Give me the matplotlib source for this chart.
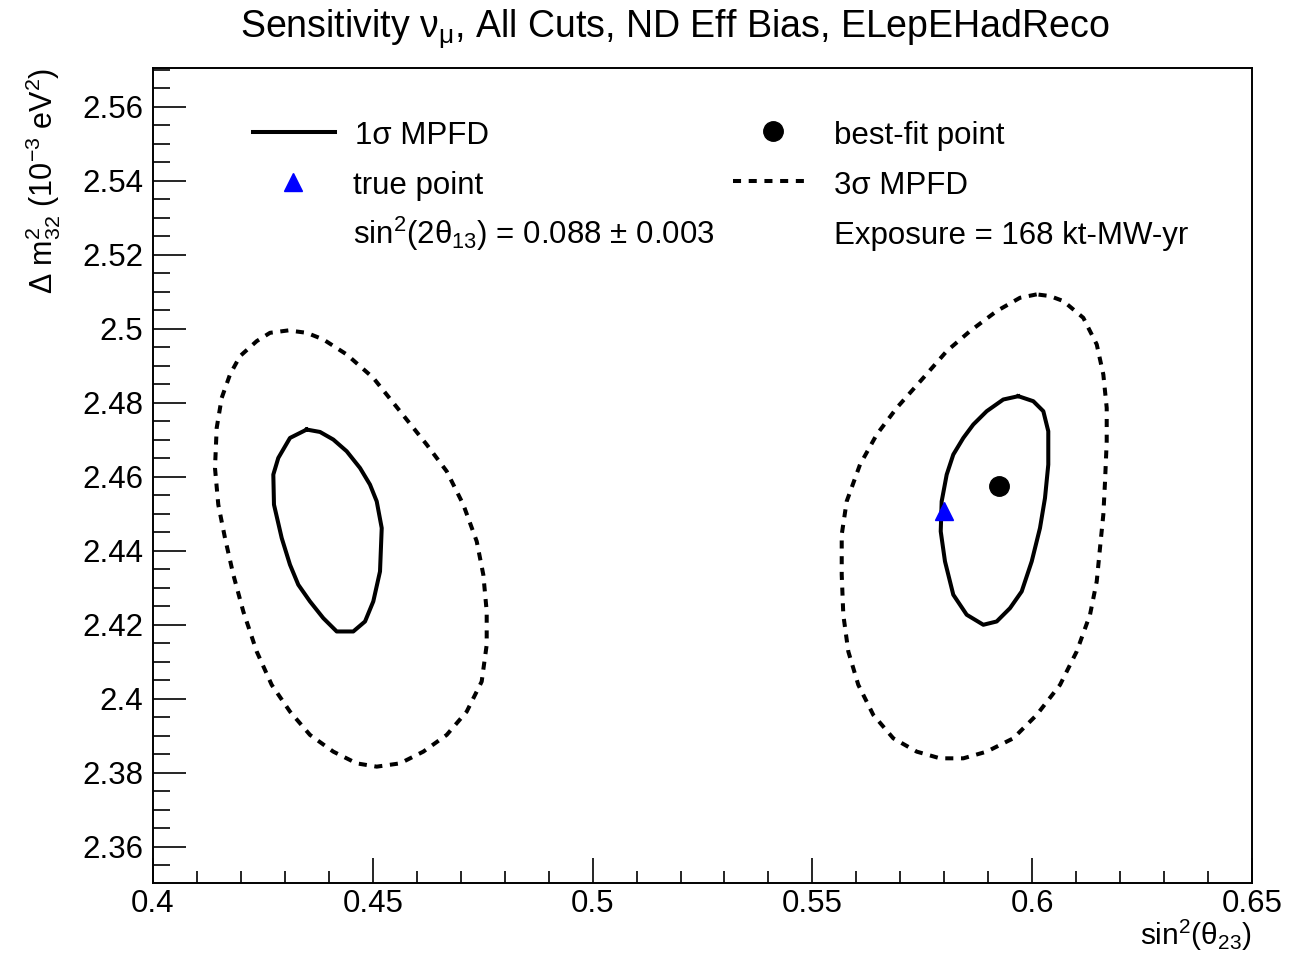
import matplotlib
matplotlib.use("Agg")
import matplotlib.pyplot as plt
from matplotlib.ticker import MultipleLocator
from matplotlib.lines import Line2D

plt.rcParams['font.family'] = ['Liberation Sans', 'DejaVu Sans']
plt.rcParams['mathtext.fontset'] = 'custom'
plt.rcParams['mathtext.rm'] = 'Liberation Sans'
plt.rcParams['mathtext.it'] = 'Liberation Sans'
plt.rcParams['mathtext.default'] = 'regular'

# ---------------- data ----------------
# 1 sigma contour, lower octant
c1_low_x = [0.43496, 0.43116, 0.42850, 0.42737, 0.42752, 0.42928, 0.43116, 0.43305,
            0.43571, 0.43874, 0.44179, 0.44556, 0.44823, 0.45011, 0.45164, 0.45203,
            0.45089, 0.44936, 0.44709, 0.44406, 0.44101, 0.43799]
c1_low_y = [2.47277, 2.47050, 2.46509, 2.46060, 2.45248, 2.44344, 2.43624, 2.43083,
            2.42631, 2.42179, 2.41819, 2.41819, 2.42089, 2.42631, 2.43442, 2.44614,
            2.45337, 2.45789, 2.46238, 2.46690, 2.47007, 2.47212]

# 3 sigma contour, lower octant
c3_low_x = [0.43078, 0.42662, 0.42359, 0.41979, 0.41752, 0.41563, 0.41449, 0.41410,
            0.41485, 0.41638, 0.41827, 0.42054, 0.42359, 0.42700, 0.43116, 0.43571,
            0.44101, 0.44634, 0.45089, 0.45619, 0.46149, 0.46681, 0.47136, 0.47477,
            0.47591, 0.47591, 0.47514, 0.47364, 0.47059, 0.46681, 0.46226, 0.45619,
            0.45011, 0.44406, 0.43874, 0.43496]
c3_low_y = [2.49957, 2.49892, 2.49667, 2.49261, 2.48766, 2.48133, 2.47321, 2.46238,
            2.45248, 2.44344, 2.43353, 2.42360, 2.41277, 2.40376, 2.39653, 2.39023,
            2.38571, 2.38254, 2.38165, 2.38254, 2.38571, 2.39023, 2.39653, 2.40465,
            2.41459, 2.42360, 2.43353, 2.44254, 2.45248, 2.46149, 2.46871, 2.47773,
            2.48674, 2.49307, 2.49713, 2.49892]

# 1 sigma contour, upper octant
c1_up_x = [0.59684, 0.59342, 0.58965, 0.58660, 0.58433, 0.58205, 0.58055, 0.57941,
           0.57919, 0.58016, 0.58205, 0.58510, 0.58888, 0.59192, 0.59495, 0.59761,
           0.59989, 0.60177, 0.60291, 0.60366, 0.60366, 0.60253, 0.60025]
c1_up_y = [2.48179, 2.48089, 2.47773, 2.47413, 2.47050, 2.46601, 2.46060, 2.45337,
           2.44525, 2.43713, 2.42812, 2.42271, 2.42000, 2.42089, 2.42449, 2.42901,
           2.43713, 2.44614, 2.45426, 2.46330, 2.47231, 2.47773, 2.48043]

# 3 sigma contour, upper octant
c3_up_x = [0.60102, 0.59722, 0.59192, 0.58585, 0.58055, 0.57523, 0.56918, 0.56463,
           0.56083, 0.55780, 0.55667, 0.55667, 0.55703, 0.55817, 0.56044, 0.56385,
           0.56840, 0.57373, 0.57903, 0.58433, 0.58965, 0.59570, 0.60102, 0.60633,
           0.61012, 0.61315, 0.61468, 0.61542, 0.61618, 0.61657, 0.61695, 0.61695,
           0.61618, 0.61468, 0.61162, 0.60708, 0.60405]
c3_up_y = [2.50931, 2.50839, 2.50479, 2.49938, 2.49396, 2.48674, 2.47862, 2.47142,
           2.46330, 2.45337, 2.44436, 2.43353, 2.42271, 2.41277, 2.40376, 2.39564,
           2.38931, 2.38571, 2.38390, 2.38390, 2.38571, 2.38931, 2.39564, 2.40376,
           2.41277, 2.42271, 2.43172, 2.44073, 2.44977, 2.45878, 2.46961, 2.47862,
           2.48766, 2.49578, 2.50298, 2.50750, 2.50885]

best_fit_x = [0.5925]
best_fit_y = [2.4574]
true_x = [0.580]
true_y = [2.4507]

x_ticks = [0.40, 0.45, 0.50, 0.55, 0.60, 0.65]
x_tick_labels = ['0.4', '0.45', '0.5', '0.55', '0.6', '0.65']
y_ticks = [2.36, 2.38, 2.40, 2.42, 2.44, 2.46, 2.48, 2.50, 2.52, 2.54, 2.56]
y_tick_labels = ['2.36', '2.38', '2.4', '2.42', '2.44', '2.46', '2.48', '2.5',
                 '2.52', '2.54', '2.56']

title = r'Sensitivity ν$_{\mu}$, All Cuts, ND Eff Bias, ELepEHadReco'
xlabel = r'sin$^{2}$(θ$_{23}$)'
ylabel = r'Δ m$^{2}_{32}$ (10$^{-3}$ eV$^{2}$)'
leg_1sig = '1σ MPFD'
leg_3sig = '3σ MPFD'
leg_true = 'true point'
leg_best = 'best-fit point'
leg_th13 = r'sin$^{2}$(2θ$_{13}$) = 0.088 ± 0.003'
leg_expo = 'Exposure = 168 kt-MW-yr'

# ---------------- figure ----------------
W, H = 1309, 959
fig = plt.figure(figsize=(W / 100, H / 100), dpi=100)
ax = fig.add_axes([153 / W, (H - 883) / H, 1099 / W, 815 / H])

LW = 2.9
DASH = (2.0, 1.9)
FS = 22.5


def closed(xs, ys):
    return list(xs) + [xs[0]], list(ys) + [ys[0]]


for cx, cy in [(c1_low_x, c1_low_y), (c1_up_x, c1_up_y)]:
    px, py = closed(cx, cy)
    ax.plot(px, py, color='black', lw=LW, solid_joinstyle='round')
for cx, cy in [(c3_low_x, c3_low_y), (c3_up_x, c3_up_y)]:
    px, py = closed(cx, cy)
    ax.plot(px, py, color='black', lw=LW, linestyle=(0, DASH), dash_capstyle='butt')

ax.plot(true_x, true_y, marker='^', color='#0000ff', ms=13, linestyle='none', zorder=5)
ax.plot(best_fit_x, best_fit_y, marker='o', color='black', ms=14, linestyle='none', zorder=6)

ax.set_xlim(0.40, 0.65)
ax.set_ylim(2.3502, 2.5705)
ax.set_xticks(x_ticks)
ax.set_xticklabels(x_tick_labels)
ax.set_yticks(y_ticks)
ax.set_yticklabels(y_tick_labels)
ax.xaxis.set_minor_locator(MultipleLocator(0.01))
ax.yaxis.set_minor_locator(MultipleLocator(0.005))
ax.tick_params(axis='x', which='major', direction='in', length=18, width=1.2,
               labelsize=FS, pad=4, top=False)
ax.tick_params(axis='x', which='minor', direction='in', length=9, width=1.2, top=False)
ax.tick_params(axis='y', which='major', direction='in', length=24, width=1.2,
               labelsize=FS, pad=7, right=False)
ax.tick_params(axis='y', which='minor', direction='in', length=12, width=1.2, right=False)
for s in ax.spines.values():
    s.set_linewidth(1.4)

fig.text(675 / W, 1 - 38 / H, title, ha='center', va='baseline', fontsize=27)
fig.text(1252 / W, 1 - 945 / H, xlabel, ha='right', va='baseline', fontsize=21.5)
fig.text(43 / W, 1 - 68 / H, ylabel, ha='center', va='top', rotation=90, fontsize=22)

# ---------------- legend ----------------
def axx(px):
    return (px - 153) / 1099


def axy(py):
    return (883 - py) / 815


T = ax.transAxes
ax.add_line(Line2D([axx(253), axx(335)], [axy(132), axy(132)], transform=T,
                   color='black', lw=LW))
ax.text(axx(355), axy(144), leg_1sig, transform=T, fontsize=FS, va='baseline')
ax.add_line(Line2D([axx(293)], [axy(182)], transform=T, marker='^', ms=13,
                   color='#0000ff', linestyle='none'))
ax.text(axx(353), axy(194), leg_true, transform=T, fontsize=FS, va='baseline')
ax.text(axx(353), axy(244), leg_th13, transform=T, fontsize=FS, va='baseline')

ax.add_line(Line2D([axx(773)], [axy(131)], transform=T, marker='o', ms=14,
                   color='black', linestyle='none'))
ax.text(axx(834), axy(144), leg_best, transform=T, fontsize=FS, va='baseline')
ax.add_line(Line2D([axx(733), axx(808)], [axy(181), axy(181)], transform=T,
                   color='black', lw=LW, linestyle=(0, DASH), dash_capstyle='butt'))
ax.text(axx(834), axy(194), leg_3sig, transform=T, fontsize=FS, va='baseline')
ax.text(axx(834), axy(244), leg_expo, transform=T, fontsize=FS, va='baseline')

fig.savefig('out.png', dpi=100)
